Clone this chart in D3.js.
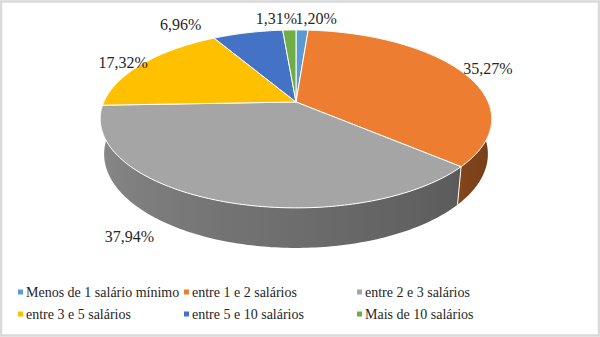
<!DOCTYPE html>
<html>
<head>
<meta charset="utf-8">
<script src="https://cdn.jsdelivr.net/npm/d3@7"></script>
<style>
  html, body { margin: 0; padding: 0; background: #fff; font-family: serif; }
  svg { display: block; }
  text { font-family: serif; }
</style>
</head>
<body>
<div id="chart"></div>
<script>
// ===== data =====
const categories = [
  'Menos de 1 salário mínimo',
  'entre 1 e 2 salários',
  'entre 2 e 3 salários',
  'entre 3 e 5 salários',
  'entre 5 e 10 salários',
  'Mais de 10 salários'
];
const values = [1.20, 35.27, 37.94, 17.32, 6.96, 1.31];
const colors = ['#5B9BD5', '#ED7D31', '#A5A5A5', '#FFC000', '#4472C4', '#70AD47'];

// ===== layout =====
const width = 600, height = 337;
const cx = 296, cy = 102;          // projected centre of the top face
const focal = 905, dist = 4.709;   // perspective camera
const tilt = 26.5 * Math.PI / 180; // elevation
const thick = 0.205;               // pie height, in radii
const sinT = Math.sin(tilt), cosT = Math.cos(tilt);
const serif = 'Liberation Serif, Times New Roman, serif';

// label nudges (Excel's own placement of the data labels)
const labelNudge = [[14, -11], [26, -3], [-88, 37], [-19, -1], [-67, -8], [-13, -11]];

const svg = d3.select('#chart').append('svg')
  .attr('width', width)
  .attr('height', height)
  .attr('font-family', serif);

svg.append('rect')
  .attr('x', 1).attr('y', 1.5)
  .attr('width', width - 2).attr('height', height - 3)
  .attr('fill', '#fff')
  .attr('stroke', '#d9d9d9')
  .attr('stroke-width', 2.5);

// angle phi measured clockwise from the far point, r in radii, h = height (0 = top)
function project(phi, r, h) {
  const X = r * Math.sin(phi), Z = r * Math.cos(phi);
  const yc = h * cosT + Z * sinT;
  const zc = -h * sinT + Z * cosT + dist;
  return [cx + focal * X / zc, cy - focal * yc / zc];
}

const pie = d3.pie().sort(null).value(d => d)
  .startAngle(0).endAngle(2 * Math.PI);
const arcs = pie(values);
const total = d3.sum(values);

function shadeK(phi) {
  // lighter on the left, darker on the right of the front wall
  return 0.45 + Math.max(0, Math.min(1, (phi - Math.PI / 2) / Math.PI)) * 0.42;
}
function shade(color, k) {
  const c = d3.rgb(color);
  return d3.rgb(c.r * k, c.g * k, c.b * k).formatHex();
}

// ===== outer wall (front half only), one path per slice =====
const step = Math.PI / 180;
const walls = [];
arcs.forEach((a, i) => {
  const p0 = Math.max(a.startAngle, Math.PI / 2);
  const p1 = Math.min(a.endAngle, 3 * Math.PI / 2);
  if (p1 > p0) walls.push({ i: i, p0: p0, p1: p1 });
});

const defs = svg.append('defs');
walls.forEach(w => {
  const xa = project(w.p1, 1, 0)[0], xb = project(w.p0, 1, 0)[0];
  const g = defs.append('linearGradient')
    .attr('id', 'wall' + w.i)
    .attr('gradientUnits', 'userSpaceOnUse')
    .attr('x1', xa).attr('x2', xb).attr('y1', 0).attr('y2', 0);
  const n = 12;
  for (let k = 0; k <= n; k++) {
    const p = w.p1 - (w.p1 - w.p0) * k / n;
    const x = project(p, 1, 0)[0];
    g.append('stop')
      .attr('offset', xb > xa ? (x - xa) / (xb - xa) : 0)
      .attr('stop-color', shade(colors[w.i], shadeK(p)));
  }
});

function wallPath(w) {
  const n = Math.max(2, Math.ceil((w.p1 - w.p0) / step));
  const top = [], bottom = [];
  for (let k = 0; k <= n; k++) {
    const p = w.p0 + (w.p1 - w.p0) * k / n;
    top.push(project(p, 1, 0));
    bottom.push(project(p, 1, -thick));
  }
  return 'M' + top.concat(bottom.reverse()).join('L') + 'Z';
}

const wall = svg.append('g');
wall.selectAll('path')
  .data(walls)
  .enter()
  .append('path')
  .attr('d', wallPath)
  .attr('fill', d => `url(#wall${d.i})`);

// white seams on the wall at slice borders
wall.selectAll('line')
  .data(arcs.filter(a => Math.cos(a.startAngle) < -0.24))
  .enter()
  .append('line')
  .attr('x1', d => project(d.startAngle, 1, 0)[0])
  .attr('y1', d => project(d.startAngle, 1, 0)[1])
  .attr('x2', d => project(d.startAngle, 1, -thick)[0])
  .attr('y2', d => project(d.startAngle, 1, -thick)[1])
  .attr('stroke', '#fff')
  .attr('stroke-width', 1);

// ===== top faces =====
function topPath(a) {
  const n = Math.max(4, Math.ceil((a.endAngle - a.startAngle) / step));
  const pts = [project(0, 0, 0)];
  for (let k = 0; k <= n; k++) {
    const p = a.startAngle + (a.endAngle - a.startAngle) * k / n;
    pts.push(project(p, 1, 0));
  }
  return 'M' + pts.join('L') + 'Z';
}

svg.append('g')
  .selectAll('path')
  .data(arcs)
  .enter()
  .append('path')
  .attr('d', topPath)
  .attr('fill', (d, i) => colors[i])
  .attr('stroke', '#fff')
  .attr('stroke-width', 1)
  .attr('stroke-linejoin', 'round');

// ===== data labels =====
const fmt = d3.formatLocale({ decimal: ',', thousands: '.', grouping: [3], currency: ['', ''] }).format('.2f');

svg.selectAll('text.label')
  .data(arcs)
  .enter()
  .append('text')
  .attr('class', 'label')
  .attr('x', (d, i) => project((d.startAngle + d.endAngle) / 2, 1, 0)[0] + labelNudge[i][0])
  .attr('y', (d, i) => project((d.startAngle + d.endAngle) / 2, 1, 0)[1] + labelNudge[i][1] + 5)
  .attr('text-anchor', 'middle')
  .attr('font-family', serif)
  .style('font-family', serif)
  .attr('font-size', 16)
  .attr('fill', '#262626')
  .text(d => fmt(d.value / total * 100) + '%');

// ===== legend =====
const legendCols = [18, 184, 357];
const legendRows = [292, 314];
const lx = i => legendCols[i % 3];
const ly = i => legendRows[Math.floor(i / 3)];

svg.selectAll('rect.key')
  .data(categories)
  .enter()
  .append('rect')
  .attr('class', 'key')
  .attr('x', (d, i) => lx(i))
  .attr('y', (d, i) => ly(i) - 2.5)
  .attr('width', 5).attr('height', 5)
  .attr('fill', (d, i) => colors[i]);

svg.selectAll('text.legend')
  .data(categories)
  .enter()
  .append('text')
  .attr('class', 'legend')
  .attr('x', (d, i) => lx(i) + 8)
  .attr('y', (d, i) => ly(i) + 4.5)
  .attr('font-family', serif)
  .style('font-family', serif)
  .attr('font-size', 14)
  .attr('fill', '#262626')
  .text(d => d);
</script>
</body>
</html>
